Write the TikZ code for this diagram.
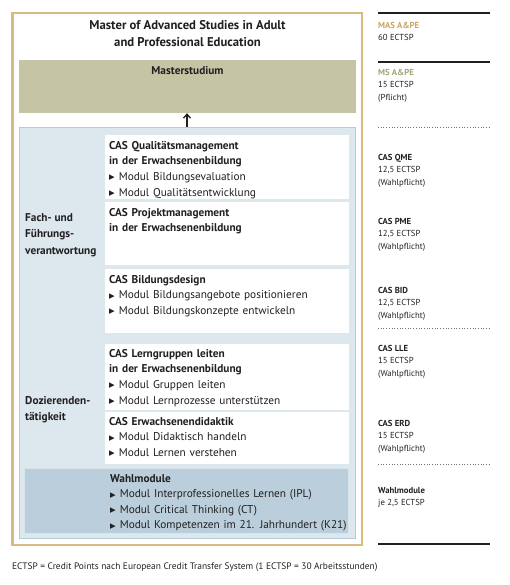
\documentclass[tikz,border=0pt]{standalone}
\usepackage{fontspec}
\setmainfont{PT Sans}
\newfontfamily\symfont{DejaVu Sans}
\usetikzlibrary{arrows.meta}
\definecolor{mapgold}{HTML}{D8BB80}
\definecolor{mapgoldtext}{HTML}{C9A55E}
\definecolor{mapolive}{HTML}{C5C5A6}
\definecolor{mapolivetext}{HTML}{A3A37C}
\definecolor{maplightblue}{HTML}{DCE7EE}
\definecolor{mapblueline}{HTML}{B7CBD8}
\definecolor{mapwahlblue}{HTML}{BACFDB}
\definecolor{maptext}{HTML}{231F20}
\newcommand{\modbullet}{{\symfont\fontsize{7.3}{7}\selectfont\raisebox{0.6pt}{▶}}\hspace{4pt}}
\tikzset{
  boxtext/.style={anchor=north west,inner sep=0pt,text width=250pt,align=left,
    text=maptext,font=\fontsize{11.3}{15.6}\selectfont},
  sidelabel/.style={anchor=north west,inner sep=0pt,align=left,
    text=maptext,font=\bfseries\fontsize{11.3}{16.5}\selectfont},
  credit/.style={anchor=north west,inner sep=0pt,align=left,
    text=maptext,font=\fontsize{8.7}{12.5}\selectfont},
  thickrule/.style={maptext,line width=2.8pt},
  dotrule/.style={black!55,line width=0.7pt,dash pattern=on 0.7pt off 2pt}
}

\begin{document}
\begin{tikzpicture}[x=1pt,y=-1pt]
  \useasboundingbox (0,0) rectangle (510,585);

  % ---- Outer frame and title -----------------------------------
  \draw[mapgold,line width=2.2pt] (12.5,13) rectangle (362,545);
  \node[anchor=north,inner sep=0pt,align=center,text=maptext,
        font=\bfseries\fontsize{12.7}{17}\selectfont] (title) at (187.5,20)
    {Master of Advanced Studies in Adult\\and Professional Education};

  % ---- Masterstudium -------------------------------------------
  \node[fill=mapolive,minimum width=337pt,minimum height=53pt,inner sep=0pt]
    (master) at (187.5,86.5) {};
  \node[inner sep=0pt,text=maptext,font=\bfseries\fontsize{11.3}{12}\selectfont]
    (mastertext) at (187.5,71) {Masterstudium};

  % ---- CAS area ------------------------------------------------
  \node[fill=maplightblue,draw=mapblueline,line width=1pt,
        minimum width=336pt,minimum height=410pt,inner sep=0pt]
    (cas) at (187,333) {};
  \draw[maptext,line width=1.3pt,-{Straight Barb[length=4pt,width=7pt]}]
    (cas.north) -- (cas.north |- master.south);

  % White CAS boxes
  \fill[white] (105,135) rectangle (349,199);
  \fill[white] (105,202) rectangle (349,265);
  \fill[white] (105,269) rectangle (349,333);
  \fill[white] (105,344) rectangle (349,410);
  \fill[white] (105,412) rectangle (349,464);
  % Wahlmodule box
  \fill[mapwahlblue,draw=white!45!mapwahlblue,line width=0.8pt]
    (24,468) rectangle (348,533);

  \node[boxtext] (qme) at (109,141)
    {\textbf{CAS Qualitätsmanagement}\\
     \textbf{in der Erwachsenenbildung}\\
     \modbullet Modul Bildungsevaluation\\
     \modbullet Modul Qualitätsentwicklung};
  \node[boxtext] (pme) at (109,208)
    {\textbf{CAS Projektmanagement}\\
     \textbf{in der Erwachsenenbildung}};
  \node[boxtext] (bid) at (109,275)
    {\textbf{CAS Bildungsdesign}\\
     \modbullet Modul Bildungsangebote positionieren\\
     \modbullet Modul Bildungskonzepte entwickeln};
  \node[boxtext] (lle) at (109,349)
    {\textbf{CAS Lerngruppen leiten}\\
     \textbf{in der Erwachsenenbildung}\\
     \modbullet Modul Gruppen leiten\\
     \modbullet Modul Lernprozesse unterstützen};
  \node[boxtext] (erd) at (109,417)
    {\textbf{CAS Erwachsenendidaktik}\\
     \modbullet Modul Didaktisch handeln\\
     \modbullet Modul Lernen verstehen};
  \node[boxtext] (wahl) at (110,474)
    {\textbf{Wahlmodule}\\
     \modbullet Modul Interprofessionelles Lernen (IPL)\\
     \modbullet Modul Critical Thinking (CT)\\
     \modbullet Modul Kompetenzen im 21. Jahrhundert (K21)};

  % Side labels
  \node[sidelabel] (fach) at (25,213) {Fach- und\\Führungs-\\verantwortung};
  \node[sidelabel] (dozent) at (25,396) {Dozierenden-\\tätigkeit};

  % ---- Credit column -------------------------------------------
  \draw[thickrule] (378,13) -- (490,13);
  \node[credit] (mas) at (378,22)
    {\textcolor{mapgoldtext}{\textbf{MAS A\&PE}}\\60 ECTSP};
  \draw[thickrule] (378,62) -- (490,62);
  \node[credit] (ms) at (378,69)
    {\textcolor{mapolivetext}{\textbf{MS A\&PE}}\\15 ECTSP\\(Pflicht)};
  \draw[dotrule] (378,127) -- (490,127);
  \node[credit] (crqme) at (378,154) {\textbf{CAS QME}\\12,5 ECTSP\\(Wahlpflicht)};
  \node[credit] (crpme) at (378,218) {\textbf{CAS PME}\\12,5 ECTSP\\(Wahlpflicht)};
  \node[credit] (crbid) at (378,287) {\textbf{CAS BID}\\12,5 ECTSP\\(Wahlpflicht)};
  \draw[dotrule] (378,328) -- (490,328);
  \node[credit] (crlle) at (378,345) {\textbf{CAS LLE}\\15 ECTSP\\(Wahlpflicht)};
  \node[credit] (crerd) at (378,420) {\textbf{CAS ERD}\\15 ECTSP\\(Wahlpflicht)};
  \draw[dotrule] (378,464) -- (490,464);
  \node[credit,font=\fontsize{8.7}{12}\selectfont] (crwahl) at (378,487)
    {\textbf{Wahlmodule}\\je 2,5 ECTSP};
  \draw[thickrule] (378,544) -- (490,544);

  % ---- Footnote ------------------------------------------------
  \node[anchor=west,inner sep=0pt,text=maptext,font=\fontsize{9.4}{10}\selectfont]
    (footnote) at (12,567)
    {ECTSP = Credit Points nach European Credit Transfer System (1 ECTSP = 30 Arbeitsstunden)};

\end{tikzpicture}
\end{document}
